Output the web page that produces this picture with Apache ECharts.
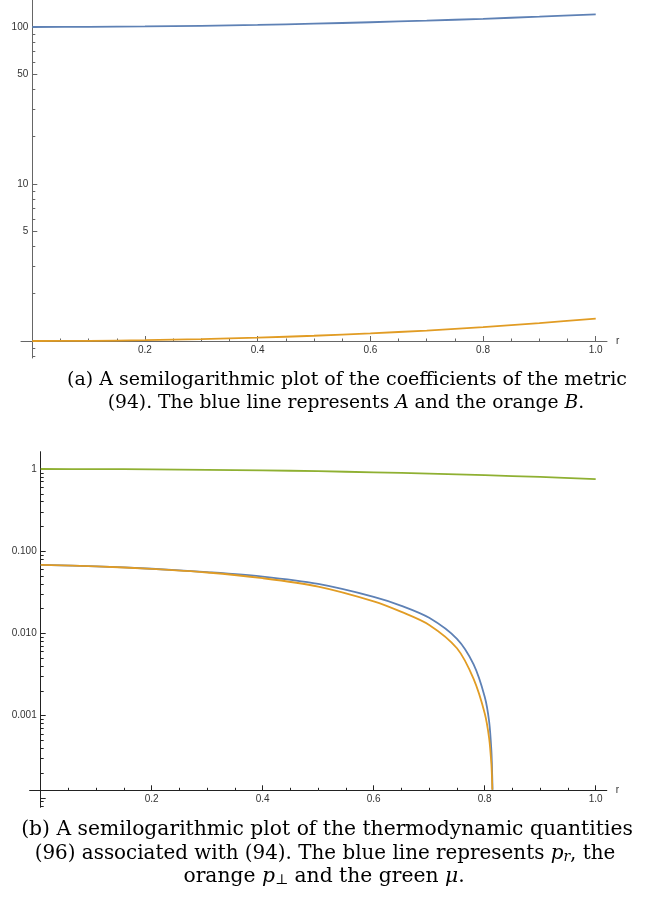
<!DOCTYPE html>
<html>
<head>
<meta charset="utf-8">
<script src="https://cdn.jsdelivr.net/npm/echarts@6/dist/echarts.min.js"></script>
<style>
html,body{margin:0;padding:0;background:#fff;}
#chart{width:649px;height:898px;}
</style>
</head>
<body>
<div id="chart"></div>
<script>
// ---- data ----
// (a) metric coefficients
const rMetric = [0, 0.1, 0.2, 0.3, 0.4, 0.5, 0.6, 0.7, 0.8, 0.9, 1.0];
const coefA   = [100, 100.2, 100.8, 101.8, 103.2, 105.0, 107.2, 109.8, 112.8, 116.4, 120.5];
const coefB   = [1.0, 1.003, 1.012, 1.028, 1.05, 1.08, 1.118, 1.166, 1.226, 1.30, 1.39];
// (b) thermodynamic quantities
const rPr    = [0, 0.1, 0.2, 0.3, 0.4, 0.5, 0.6, 0.65, 0.7, 0.75, 0.78, 0.8, 0.808, 0.812, 0.8135, 0.8141];
const pR     = [0.0682, 0.0656, 0.0612, 0.0557, 0.0492, 0.0400, 0.0279, 0.0217, 0.0155, 0.0086, 0.0042, 0.0017, 0.00085, 0.00038, 0.00019, 0.000126];
const rPt    = [0, 0.1, 0.2, 0.3, 0.4, 0.5, 0.6, 0.65, 0.7, 0.75, 0.78, 0.8, 0.808, 0.812, 0.8132, 0.8137];
const pPerp  = [0.0682, 0.0655, 0.0610, 0.0551, 0.0470, 0.0372, 0.0246, 0.0183, 0.0127, 0.0066, 0.0028, 0.00107, 0.00053, 0.00026, 0.00017, 0.000126];
const rMu    = [0, 0.1, 0.2, 0.3, 0.4, 0.5, 0.6, 0.7, 0.8, 0.9, 1.0];
const muVals = [1.0, 0.998, 0.99, 0.978, 0.962, 0.94, 0.912, 0.88, 0.842, 0.80, 0.755];

// ---- ticks ----
const xLabelTicks = [0.2, 0.4, 0.6, 0.8, 1.0];
const xMinorTicks = [0.05, 0.1, 0.15, 0.25, 0.3, 0.35, 0.45, 0.5, 0.55, 0.65, 0.7, 0.75, 0.85, 0.9, 0.95];
const topYLabels = [5, 10, 50, 100];
const topYMajor  = [1, 5, 10, 50, 100];
const topYMinor  = [0.8, 0.9, 2, 3, 4, 6, 7, 8, 9, 20, 30, 40, 60, 70, 80, 90];
const botYLabels = [0.001, 0.01, 0.1, 1];
const botYMajor  = [0.0001, 0.001, 0.01, 0.1, 1];
const botYMinor  = [0.00008, 0.00009,
  0.0002, 0.0003, 0.0004, 0.0005, 0.0006, 0.0007, 0.0008, 0.0009,
  0.002, 0.003, 0.004, 0.005, 0.006, 0.007, 0.008, 0.009,
  0.02, 0.03, 0.04, 0.05, 0.06, 0.07, 0.08, 0.09,
  0.2, 0.3, 0.4, 0.5, 0.6, 0.7, 0.8, 0.9];

const zip = (xs, ys) => xs.map((x, i) => [x, ys[i]]);

const BLUE = '#5E81B5', ORANGE = '#E19C24', GREEN = '#8FB032';
const labelFont = {fontFamily: 'Liberation Sans', fontSize: 10, color: '#333'};

function xAxes(gridIndex, axisColor) {
  return [
    {
      type: 'value', gridIndex, min: -0.02, max: 1.02, position: 'bottom', offset: -17,
      name: 'r', nameLocation: 'end', nameGap: 9,
      nameTextStyle: {fontFamily: 'Liberation Sans', fontSize: 10, color: '#333'},
      axisLine: {show: true, lineStyle: {color: axisColor, width: 1}},
      axisTick: {show: true, inside: true, length: 5, customValues: xLabelTicks, lineStyle: {color: axisColor}},
      axisLabel: Object.assign({show: true, margin: 4, customValues: xLabelTicks,
        formatter: v => v.toFixed(1)}, labelFont),
      splitLine: {show: false}
    },
    {
      type: 'value', gridIndex, min: -0.02, max: 1.02, position: 'bottom', offset: -17,
      axisLine: {show: false},
      axisTick: {show: true, inside: true, length: 2.5, customValues: xMinorTicks, lineStyle: {color: axisColor}},
      axisLabel: {show: false},
      splitLine: {show: false}
    }
  ];
}

function yAxes(gridIndex, min, max, labels, major, minor, fmt, offset, axisColor) {
  return [
    {
      type: 'log', logBase: 10, gridIndex, min, max, position: 'left', offset,
      axisLine: {show: true, lineStyle: {color: axisColor, width: 1}},
      axisTick: {show: true, inside: true, length: 5, customValues: major, lineStyle: {color: axisColor}},
      axisLabel: Object.assign({show: true, margin: 4, customValues: labels, formatter: fmt}, labelFont),
      splitLine: {show: false}
    },
    {
      type: 'log', logBase: 10, gridIndex, min, max, position: 'left', offset,
      axisLine: {show: false},
      axisTick: {show: true, inside: true, length: 3, customValues: minor, lineStyle: {color: axisColor}},
      axisLabel: {show: false},
      splitLine: {show: false}
    }
  ];
}

const topMin = Math.pow(10, -0.1083), topMax = Math.pow(10, 2.172);
const botMin = Math.pow(10, -4.114), botMax = Math.pow(10, 0.2104);

const lineSeries = (name, data, color, xi, yi) => ({
  name, type: 'line', data, xAxisIndex: xi, yAxisIndex: yi,
  showSymbol: false, smooth: 0.3,
  lineStyle: {color, width: 1.8}, itemStyle: {color}, z: 3
});

const serif = 'DejaVu Serif';
function makeRich(size) {
  const sub = Math.round(size * 0.68);
  return {
    n: {fontFamily: serif, fontSize: size, fill: '#000', color: '#000'},
    i: {fontFamily: serif, fontSize: size, fontStyle: 'italic', fill: '#000', color: '#000'},
    s: {fontFamily: serif, fontSize: sub, fontStyle: 'italic', fill: '#000', color: '#000', verticalAlign: 'bottom', lineHeight: sub + 2},
    u: {fontFamily: serif, fontSize: sub, fill: '#000', color: '#000', verticalAlign: 'bottom', lineHeight: sub + 2}
  };
}
const capLine = (x, y, size, text) => ({
  type: 'text', x, y,
  style: {text, rich: makeRich(size), fontFamily: serif, fontSize: size, fill: '#000',
    align: 'center', verticalAlign: 'middle', textAlign: 'center', textVerticalAlign: 'middle'}
});

const option = {
  animation: false,
  backgroundColor: '#fff',
  grid: [
    {left: 21, top: 0, width: 586, height: 358, containLabel: false},
    {left: 29.6, top: 451.7, width: 577.2, height: 355.6, containLabel: false}
  ],
  xAxis: [...xAxes(0, '#666'), ...xAxes(1, '#222')],
  yAxis: [
    ...yAxes(0, topMin, topMax, topYLabels, topYMajor, topYMinor, v => String(Math.round(v)), -11.3, '#666'),
    ...yAxes(1, botMin, botMax, botYLabels, botYMajor, botYMinor, v => (v >= 1 ? '1' : v.toFixed(3)), -11.1, '#222')
  ],
  series: [
    lineSeries('A', zip(rMetric, coefA), BLUE, 0, 0),
    lineSeries('B', zip(rMetric, coefB), ORANGE, 0, 0),
    lineSeries('mu', zip(rMu, muVals), GREEN, 2, 2),
    lineSeries('p_r', zip(rPr, pR), BLUE, 2, 2),
    lineSeries('p_perp', zip(rPt, pPerp), ORANGE, 2, 2)
  ],
  graphic: [
    capLine(347, 380, 19, '{n|(a) A semilogarithmic plot of the coefficients of the metric}'),
    capLine(346, 403, 18.7, '{n|(94). The blue line represents }{i|A}{n| and the orange }{i|B}{n|.}'),
    capLine(327, 830, 20.3, '{n|(b) A semilogarithmic plot of the thermodynamic quantities}'),
    capLine(325, 854, 19.9, '{n|(96) associated with (94). The blue line represents }{i|p}{s|r}{n|, the}'),
    capLine(324, 877, 20.3, '{n|orange }{i|p}{u|⊥}{n| and the green }{i|μ}{n|.}')
  ]
};

const chart = echarts.init(document.getElementById('chart'), null, {renderer: 'canvas'});
chart.setOption(option);
</script>
</body>
</html>
